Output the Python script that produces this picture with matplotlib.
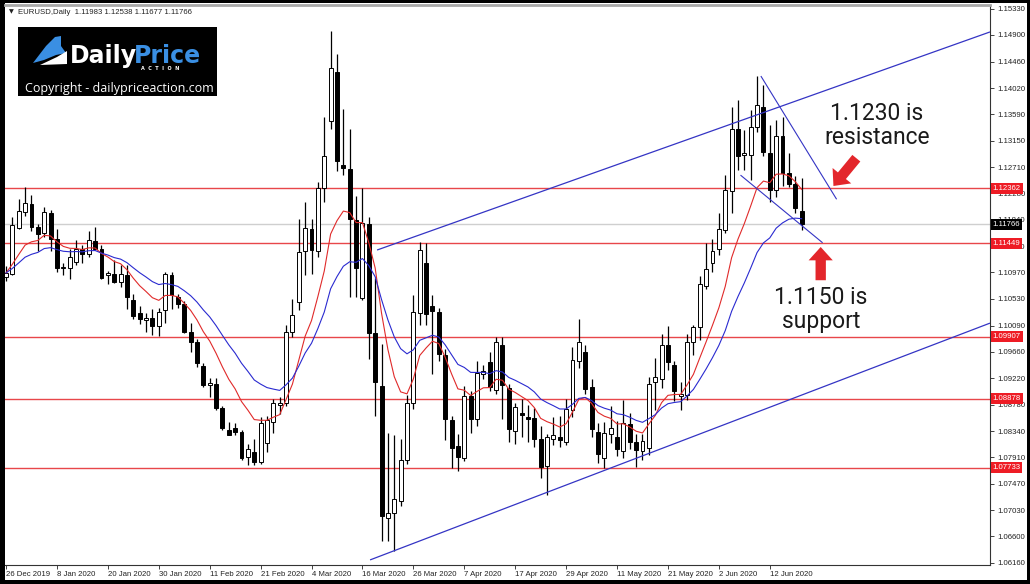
import matplotlib
matplotlib.use("Agg")
import matplotlib.pyplot as plt
from matplotlib.patches import Rectangle, Polygon
import numpy as np
import pandas as pd

# EURUSD daily candles, 26 Dec 2019 -> 19 Jun 2020 (one entry per trading day)
opens = [
    1.1090, 1.1095, 1.1171, 1.1197, 1.1210, 1.1172, 1.1163, 1.1195, 1.1152, 1.1104,
    1.1104, 1.1115, 1.1135, 1.1127, 1.1149, 1.1136, 1.1092, 1.1095, 1.1081, 1.1092,
    1.1051, 1.1030, 1.1018, 1.1022, 1.1009, 1.1035, 1.1093, 1.1057, 1.1044, 1.0998,
    1.0981, 1.0942, 1.0910, 1.0913, 1.0872, 1.0836, 1.0839, 1.0833, 1.0791, 1.0800,
    1.0783, 1.0814, 1.0850, 1.0877, 1.0880, 1.0999, 1.1048, 1.1132, 1.1169, 1.1133,
    1.1236, 1.1348, 1.1429, 1.1275, 1.1268, 1.1184, 1.1054, 1.1177, 1.0996, 1.0909,
    1.0691, 1.0699, 1.0719, 1.0786, 1.0881, 1.1030, 1.1112, 1.1042, 1.1031, 1.0961,
    1.0853, 1.0809, 1.0789, 1.0892, 1.0854, 1.0928, 1.0948, 1.0903, 1.0977, 1.0905,
    1.0834, 1.0864, 1.0858, 1.0856, 1.0821, 1.0776, 1.0821, 1.0825, 1.0817, 1.0870,
    1.0951, 1.0965, 1.0907, 1.0832, 1.0789, 1.0830, 1.0825, 1.0802, 1.0846, 1.0817,
    1.0802, 1.0806, 1.0915, 1.0920, 1.0976, 1.0944, 1.0892, 1.0894, 1.0981, 1.1007,
    1.1074, 1.1113, 1.1135, 1.1167, 1.1231, 1.1335, 1.1292, 1.1291, 1.1338, 1.1371,
    1.1294, 1.1233, 1.1323, 1.1262, 1.1243, 1.11983]
highs = [
    1.1107, 1.1188, 1.1218, 1.1239, 1.1225, 1.1177, 1.1206, 1.1201, 1.1168, 1.1113,
    1.1135, 1.1150, 1.1143, 1.1165, 1.1172, 1.1143, 1.1100, 1.1118, 1.1109, 1.1109,
    1.1062, 1.1041, 1.1030, 1.1036, 1.1038, 1.1097, 1.1097, 1.1062, 1.1050, 1.1013,
    1.0986, 1.0947, 1.0922, 1.0922, 1.0875, 1.0849, 1.0847, 1.0836, 1.0813, 1.0822,
    1.0858, 1.0860, 1.0888, 1.0891, 1.1010, 1.1053, 1.1185, 1.1213, 1.1185, 1.1247,
    1.1355, 1.1496, 1.1459, 1.1368, 1.1335, 1.1223, 1.1236, 1.1188, 1.1088, 1.0979,
    1.0831, 1.0828, 1.0822, 1.0894, 1.1059, 1.1148, 1.1145, 1.1060, 1.1038, 1.0970,
    1.0860, 1.0830, 1.0909, 1.0900, 1.0951, 1.0944, 1.0966, 1.0990, 1.0990, 1.0912,
    1.0880, 1.0887, 1.0878, 1.0873, 1.0843, 1.0830, 1.0858, 1.0860, 1.0888, 1.0974,
    1.1019, 1.0976, 1.0920, 1.0847, 1.0850, 1.0876, 1.0851, 1.0886, 1.0865, 1.0830,
    1.0830, 1.0923, 1.0955, 1.0995, 1.1008, 1.0950, 1.0915, 1.0995, 1.1010, 1.1091,
    1.1145, 1.1153, 1.1195, 1.1258, 1.1371, 1.1383, 1.1332, 1.1366, 1.1422, 1.1407,
    1.1341, 1.1350, 1.1354, 1.1295, 1.1257, 1.12538]
lows = [
    1.1083, 1.1092, 1.1168, 1.1190, 1.1165, 1.1132, 1.1155, 1.1133, 1.1098, 1.1092,
    1.1086, 1.1110, 1.1113, 1.1123, 1.1134, 1.1086, 1.1077, 1.1080, 1.1072, 1.1036,
    1.1019, 1.1011, 1.0998, 1.0994, 1.0992, 1.1014, 1.1036, 1.1038, 1.0996, 1.0966,
    1.0940, 1.0907, 1.0891, 1.0869, 1.0836, 1.0827, 1.0828, 1.0787, 1.0778, 1.0778,
    1.0780, 1.0800, 1.0831, 1.0863, 1.0875, 1.0990, 1.1035, 1.1093, 1.1095, 1.1122,
    1.1213, 1.1335, 1.1265, 1.1258, 1.1056, 1.1056, 1.1052, 1.0953, 1.0860, 1.0653,
    1.0653, 1.0636, 1.0710, 1.0780, 1.0871, 1.1010, 1.1010, 1.0928, 1.0950, 1.0820,
    1.0773, 1.0769, 1.0785, 1.0831, 1.0843, 1.0920, 1.0900, 1.0895, 1.0855, 1.0816,
    1.0813, 1.0825, 1.0817, 1.0808, 1.0756, 1.0729, 1.0811, 1.0808, 1.0812, 1.0858,
    1.0938, 1.0895, 1.0825, 1.0782, 1.0773, 1.0815, 1.0793, 1.0790, 1.0805, 1.0775,
    1.0786, 1.0795, 1.0870, 1.0905, 1.0935, 1.0884, 1.0870, 1.0885, 1.0960, 1.0985,
    1.1070, 1.1098, 1.1125, 1.1162, 1.1195, 1.1267, 1.1267, 1.1250, 1.1330, 1.1290,
    1.1214, 1.1222, 1.1240, 1.1238, 1.1195, 1.11677]
closes = [
    1.1096, 1.1176, 1.1199, 1.1212, 1.1172, 1.1160, 1.1197, 1.1152, 1.1104, 1.1106,
    1.1123, 1.1135, 1.1127, 1.1150, 1.1136, 1.1088, 1.1096, 1.1081, 1.1095, 1.1057,
    1.1024, 1.1019, 1.1022, 1.1009, 1.1031, 1.1095, 1.1060, 1.1045, 1.0999, 1.0981,
    1.0947, 1.0911, 1.0914, 1.0872, 1.0839, 1.0828, 1.0832, 1.0789, 1.0805, 1.0783,
    1.0847, 1.0852, 1.0880, 1.0881, 1.0999, 1.1027, 1.1130, 1.1170, 1.1134, 1.1236,
    1.1289, 1.1436, 1.1282, 1.1270, 1.1185, 1.1105, 1.1179, 1.0997, 1.0915, 1.0693,
    1.0699, 1.0722, 1.0786, 1.0881, 1.1032, 1.1134, 1.1028, 1.1033, 1.0962, 1.0854,
    1.0806, 1.0792, 1.0892, 1.0854, 1.0930, 1.0933, 1.0908, 1.0982, 1.0911, 1.0837,
    1.0874, 1.0861, 1.0855, 1.0821, 1.0775, 1.0825, 1.0828, 1.0819, 1.0871, 1.0952,
    1.0982, 1.0904, 1.0837, 1.0797, 1.0831, 1.0839, 1.0805, 1.0847, 1.0817, 1.0803,
    1.0818, 1.0913, 1.0923, 1.0977, 1.0948, 1.0901, 1.0896, 1.0981, 1.1007, 1.1078,
    1.1102, 1.1133, 1.1168, 1.1233, 1.1335, 1.1290, 1.1294, 1.1338, 1.1374, 1.1297,
    1.1233, 1.1323, 1.1262, 1.1243, 1.1204, 1.11766]

# date labels, one every 8 bars
date_labels = ["26 Dec 2019", "8 Jan 2020", "20 Jan 2020", "30 Jan 2020", "11 Feb 2020",
               "21 Feb 2020", "4 Mar 2020", "16 Mar 2020", "26 Mar 2020", "7 Apr 2020",
               "17 Apr 2020", "29 Apr 2020", "11 May 2020", "21 May 2020", "2 Jun 2020",
               "12 Jun 2020"]
date_step = 8

# price scale labels on the right
price_ticks = [1.15330, 1.14900, 1.14460, 1.14020, 1.13590, 1.13150, 1.12710, 1.12280,
               1.11840, 1.11400, 1.10970, 1.10530, 1.10090, 1.09660, 1.09220, 1.08780,
               1.08340, 1.07910, 1.07470, 1.07030, 1.06600, 1.06160]

# horizontal support / resistance levels and the last price
levels = [1.12362, 1.11449, 1.09907, 1.08878, 1.07733]
last_price = 1.11766

# trend lines (bar index, price)
channel_top = [(58.3, 1.1134), (154.6, 1.1495)]
channel_bottom = [(57.2, 1.0621), (154.6, 1.1013)]
wedge_top = [(118.6, 1.1422), (130.5, 1.1218)]
wedge_bottom = [(115.4, 1.1258), (128.3, 1.1146)]

# arrows and notes
resist_arrow = [(133.6, 1.1286), (130.0, 1.1240)]
support_arrow = [(128.0, 1.1084), (128.0, 1.1139)]
resist_note = (136.8, 1.1340, "1.1230 is\nresistance")
support_note = (128.0, 1.1036, "1.1150 is\nsupport")

W, H = 1030, 584
fig = plt.figure(figsize=(W / 100, H / 100), dpi=100)
fig.patch.set_facecolor("black")
fig.add_artist(Rectangle((5 / W, 4 / H), 1022 / W, 577 / H, transform=fig.transFigure,
                         fc="white", ec="none", zorder=-5))

ax = fig.add_axes([5 / W, 19 / H, 985 / W, 560 / H])
ax.set_facecolor("white")

x = np.arange(len(closes))
o = np.array(opens)
h = np.array(highs)
l = np.array(lows)
c = np.array(closes)

# levels and last price line
for lv in levels:
    ax.axhline(lv, color="#e8474a", lw=1.0, zorder=1)
ax.axhline(last_price, color="#cfcfcf", lw=1.0, zorder=1)

# candles: wicks then bodies
ax.vlines(x, l, h, color="black", lw=0.9, zorder=3)
up = c >= o
body_low = np.minimum(o, c)
body_h = np.maximum(np.abs(c - o), 0.00006)
ax.bar(x[up], body_h[up], bottom=body_low[up], width=0.62, color="white",
       edgecolor="black", linewidth=0.7, zorder=4)
ax.bar(x[~up], body_h[~up], bottom=body_low[~up], width=0.62, color="black",
       edgecolor="black", linewidth=0.7, zorder=4)

# moving averages (10 and 20 EMA of the closes)
ema_fast = pd.Series(closes).ewm(span=10, adjust=False).mean()
ema_slow = pd.Series(closes).ewm(span=20, adjust=False).mean()
ax.plot(x, ema_fast, color="#e02a2a", lw=0.8, zorder=5)
ax.plot(x, ema_slow, color="#2a2ad0", lw=0.8, zorder=5)

# trend lines
for line, lw in [(channel_top, 0.9), (channel_bottom, 0.9), (wedge_top, 0.8), (wedge_bottom, 0.8)]:
    xs, ys = zip(*line)
    ax.plot(xs, ys, color="#3434c4", lw=lw, zorder=6, solid_capstyle="butt")

# arrows
for (tail, tip) in [resist_arrow, support_arrow]:
    ax.annotate("", xy=tip, xytext=tail,
                arrowprops=dict(arrowstyle="simple,head_length=0.8,head_width=1.45,tail_width=0.62",
                                fc="#e3262b", ec="none", shrinkA=0, shrinkB=0,
                                mutation_scale=12), zorder=7)

# notes
for nx, ny, txt in [resist_note, support_note]:
    ax.text(nx, ny, txt, ha="center", va="center", fontsize=16.5, family="Roboto",
            color="#1a1a1a", linespacing=1.08, zorder=7)

# axes range and spines
ax.set_xlim(-0.16, 154.6)
ax.set_ylim(1.06126, 1.15396)
ax.spines["left"].set_visible(False)
ax.spines["top"].set_color("#a8a8a8")
ax.spines["top"].set_linewidth(2)
ax.spines["right"].set_color("#333333")
ax.spines["bottom"].set_color("#333333")
ax.spines["right"].set_linewidth(0.8)
ax.spines["bottom"].set_linewidth(0.8)

# price axis on the right
ax.yaxis.tick_right()
ax.set_yticks(price_ticks)
ax.set_yticklabels([f"{p:.5f}" for p in price_ticks])
ax.tick_params(axis="y", direction="out", length=3, width=0.6, pad=2,
               labelsize=5.6, colors="#222222")
for lbl in ax.get_yticklabels():
    lbl.set_family("Liberation Sans")

# date axis
ax.set_xticks(np.arange(len(date_labels)) * date_step)
ax.set_xticklabels(date_labels)
ax.tick_params(axis="x", direction="out", length=3, width=0.6, pad=1.5,
               labelsize=5.6, colors="#222222")
for lbl in ax.get_xticklabels():
    lbl.set_horizontalalignment("left")
    lbl.set_family("Liberation Sans")

# price boxes on the right scale (drawn over the scale, as in the terminal)
for lv in levels:
    ax.annotate(f"{lv:.5f}", xy=(1.0025, lv), xycoords=("axes fraction", "data"),
                ha="left", va="center", fontsize=5.6, family="Liberation Sans",
                color="white", annotation_clip=False, zorder=10,
                bbox=dict(boxstyle="square,pad=0.25", fc="#ee1c25", ec="none"))
ax.annotate(f"{last_price:.5f}", xy=(1.0025, last_price), xycoords=("axes fraction", "data"),
            ha="left", va="center", fontsize=5.6, family="Liberation Sans",
            color="white", annotation_clip=False, zorder=10,
            bbox=dict(boxstyle="square,pad=0.25", fc="black", ec="none"))

# chart title in the top left corner
fig.text(9 / W, 1 - 12 / H, "\u25bc", fontsize=4.5, color="#222222", va="center")
fig.text(18 / W, 1 - 12 / H, "EURUSD,Daily  1.11983 1.12538 1.11677 1.11766",
         fontsize=5.6, family="Liberation Sans", color="#222222", va="center")


# logo box
def px(xp, yp):
    return (xp / W, 1 - yp / H)


fig.add_artist(Rectangle(px(18, 96), 199 / W, 69 / H, transform=fig.transFigure,
                         fc="black", ec="none", zorder=20))
fig.add_artist(Polygon([px(33, 63), px(46, 46), px(55, 37), px(61, 36), px(61, 46),
                        px(66, 53), px(56, 55), px(44, 60)],
                       transform=fig.transFigure, fc="#3a8fe3", ec="none", zorder=21))
fig.add_artist(Polygon([px(40, 65), px(57, 57), px(67, 51), px(67, 64)],
                       transform=fig.transFigure, fc="white", ec="none", zorder=21))
fig.text(*px(70, 63), "Daily", fontsize=17, fontweight="bold", family="DejaVu Sans",
         color="white", va="baseline", zorder=22)
fig.text(*px(134, 63), "Price", fontsize=17, fontweight="bold", family="DejaVu Sans",
         color="#3a8fe3", va="baseline", zorder=22)
fig.text(*px(141, 69.5), "A  C  T  I  O  N", fontsize=3.5, fontweight="bold",
         color="white", va="baseline", zorder=22)
fig.text(*px(25, 92), "Copyright - dailypriceaction.com", fontsize=9, family="Open Sans",
         color="white", va="baseline", zorder=22)

fig.savefig("out.png", dpi=100, facecolor=fig.get_facecolor())
